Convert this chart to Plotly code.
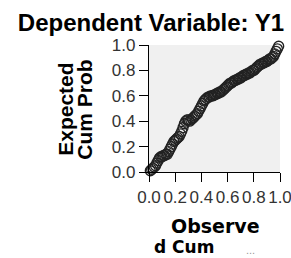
import plotly.graph_objects as go

# Observed cumulative probability (x) and expected cumulative probability (y)
observed = [0.01, 0.02, 0.03, 0.04, 0.05, 0.06, 0.07, 0.08, 0.09, 0.10,
            0.11, 0.12, 0.13, 0.14, 0.15, 0.16, 0.17, 0.18, 0.19, 0.20,
            0.21, 0.22, 0.23, 0.24, 0.25, 0.26, 0.27, 0.28, 0.29, 0.30,
            0.31, 0.32, 0.33, 0.34, 0.35, 0.36, 0.37, 0.38, 0.39, 0.40,
            0.41, 0.42, 0.43, 0.44, 0.45, 0.46, 0.47, 0.48, 0.49, 0.50,
            0.51, 0.52, 0.53, 0.54, 0.55, 0.56, 0.57, 0.58, 0.59, 0.60,
            0.61, 0.62, 0.63, 0.64, 0.65, 0.66, 0.67, 0.68, 0.69, 0.70,
            0.71, 0.72, 0.73, 0.74, 0.75, 0.76, 0.77, 0.78, 0.79, 0.80,
            0.81, 0.82, 0.83, 0.84, 0.85, 0.86, 0.87, 0.88, 0.89, 0.90,
            0.91, 0.92, 0.93, 0.94, 0.95, 0.96, 0.97, 0.98, 0.99]
expected = [0.01, 0.02, 0.03, 0.04, 0.05, 0.07, 0.09, 0.11, 0.12, 0.12,
            0.13, 0.13, 0.14, 0.14, 0.16, 0.18, 0.20, 0.22, 0.24, 0.25,
            0.26, 0.27, 0.28, 0.30, 0.32, 0.35, 0.38, 0.40, 0.41, 0.41,
            0.40, 0.41, 0.42, 0.43, 0.44, 0.45, 0.46, 0.48, 0.50, 0.52,
            0.54, 0.56, 0.57, 0.58, 0.59, 0.59, 0.60, 0.60, 0.60, 0.61,
            0.61, 0.62, 0.62, 0.63, 0.63, 0.64, 0.65, 0.66, 0.67, 0.68,
            0.69, 0.70, 0.70, 0.71, 0.72, 0.72, 0.73, 0.73, 0.74, 0.74,
            0.75, 0.76, 0.76, 0.77, 0.77, 0.78, 0.78, 0.79, 0.80, 0.80,
            0.81, 0.82, 0.83, 0.84, 0.85, 0.85, 0.86, 0.86, 0.87, 0.87,
            0.88, 0.89, 0.89, 0.90, 0.91, 0.93, 0.95, 0.97, 0.99]
tick_vals = [0.0, 0.2, 0.4, 0.6, 0.8, 1.0]
tick_text = ["0.0", "0.2", "0.4", "0.6", "0.8", "1.0"]

FONT = "Liberation Sans, Arial, sans-serif"
WIDE = "DejaVu Sans, Verdana, sans-serif"

fig = go.Figure()
fig.add_trace(go.Scatter(
    x=observed, y=expected, mode="markers",
    marker=dict(symbol="circle-open", size=10, color="#222222",
                line=dict(width=1.3, color="#222222")),
    showlegend=False, hoverinfo="skip", cliponaxis=False))

fig.update_layout(
    width=291, height=258,
    margin=dict(l=149, r=11, t=45, b=86, autoexpand=False),
    paper_bgcolor="white", plot_bgcolor="#f0f0f0",
    font=dict(family=FONT, color="#222222"),
    title=dict(text="<b>Dependent Variable: Y1</b>", x=0.519, xanchor="center",
               xref="container",
               y=0.912, yanchor="middle", yref="container",
               font=dict(size=24, color="#000000", family=FONT)),
)
axis_common = dict(range=[0, 1], tickvals=tick_vals, ticktext=tick_text,
                   showgrid=False, zeroline=False, showline=True,
                   linecolor="#000000", linewidth=1.2, ticks="outside",
                   ticklen=9, tickcolor="#000000", tickwidth=1.2,
                   tickfont=dict(size=17, color="#333333", family=FONT),
                   ticklabeloverflow="allow",
                   automargin=False,
                   mirror=False, fixedrange=True)
fig.update_xaxes(**axis_common)
fig.update_yaxes(**axis_common)

# y-axis title (two rotated lines)
fig.add_annotation(text="<b>Expected</b>", textangle=-90,
                   xref="paper", yref="paper", x=(66 - 149) / 131, y=0.49,
                   xanchor="center", yanchor="middle", showarrow=False,
                   font=dict(size=21, color="#000000", family=FONT))
fig.add_annotation(text="<b>Cum Prob</b>", textangle=-90,
                   xref="paper", yref="paper", x=(85 - 149) / 131, y=0.49,
                   xanchor="center", yanchor="middle", showarrow=False,
                   font=dict(size=21, color="#000000", family=FONT))
# x-axis title (two lines, truncated)
fig.add_annotation(text="<b>Observe</b>",
                   xref="paper", yref="paper", x=(215 - 149) / 131,
                   y=-(226 - 172) / 127,
                   xanchor="center", yanchor="middle", showarrow=False,
                   font=dict(size=19, color="#000000", family=WIDE))
fig.add_annotation(text="<b>d Cum</b>",
                   xref="paper", yref="paper", x=(184 - 149) / 131,
                   y=-(247 - 172) / 127,
                   xanchor="center", yanchor="middle", showarrow=False,
                   font=dict(size=17, color="#000000", family=WIDE))
fig.add_annotation(text="...",
                   xref="paper", yref="paper", x=(250 - 149) / 131,
                   y=-(250 - 172) / 127,
                   xanchor="center", yanchor="middle", showarrow=False,
                   font=dict(size=11, color="#999999", family=FONT))

fig.write_html("out.html", config={"displayModeBar": False},
               post_script="document.body.style.margin='0px';document.body.style.padding='0px';")
